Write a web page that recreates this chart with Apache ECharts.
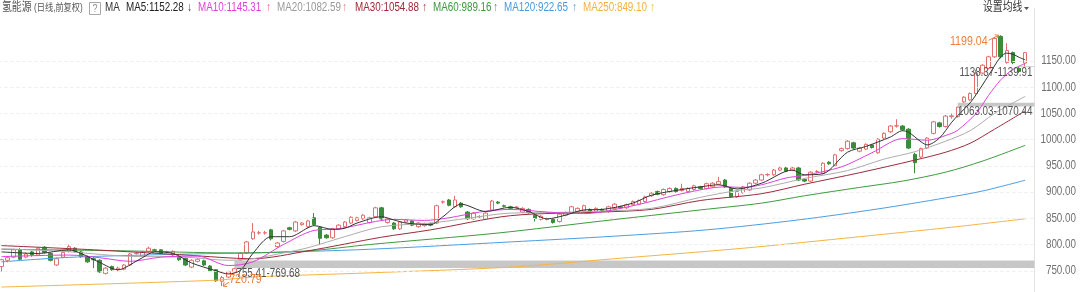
<!DOCTYPE html>
<html>
<head>
<meta charset="utf-8">
<script src="https://cdn.jsdelivr.net/npm/echarts@6/dist/echarts.min.js"></script>
<style>
html,body{margin:0;padding:0;background:#ffffff;}
#chart{width:1080px;height:292px;}
</style>
</head>
<body>
<div id="chart"></div>
<script>
// ================= DATA =================
// daily candles, each [open, close, low, high]
const ohlc = [
[758,771,748,773],[770,775,766,778],[776,790,774,792],[790,772,770,793],[776,782,774,785],
[786,780,777,788],[780,793,778,795],[795,785,783,797],[783,770,768,785],[761,773,759,775],
[776,785,774,787],[787,796,785,800],[793,787,785,795],[786,777,775,788],[777,767,765,779],
[773,771,755,777],[770,748,746,772],[745,755,743,757],[758,752,750,760],[752,755,749,758],
[753,761,751,763],[761,782,759,784],[783,783.5,781,786],[778,786,776,788],[787,793,785,796],
[790,789,787,792],[790,783,781,791],[786,786.5,784,788],[780,787,778,789],[777,771,769,779],
[774,761,759,775],[757,770,755,772],[768,772,766,774],[769,761,759,771],[759,750,748,761],
[752,731,729,753],[730,737,720.79,740],[738,748,736,750],[748,754,746,755.41],[771,783,769.68,785],
[784,805,782,807],[811,824,809,841],[822,822.5,819,826],[822,822.5,819,826],[828,811,808,830],
[796,803,794,805],[806,826,804,828],[832,829,827,834],[826,843,824,845],[838,841,836,843],
[834,845,832,847],[851,838,836,860],[833,812,799,835],[818,813,811,820],[813,830,811,832],
[830,837,828,839],[834,843,832,845],[841,852,839,854],[846,851,844,853],[849,856,847,858],
[842,851,840,853],[853,870,851,872],[870,849,847,872],[842,849,840,851],[841,830,828,843],
[830,843,828,845],[843,847,841,849],[845,837,835,847],[834,841,832,843],[836,840,834,842],
[840,837,835,842],[841,874,839,876],[881,881.5,878,884],[885,875,873,887],[872,885,870,893],
[879,872,870,881],[862,849,847,864],[849,860,847,862],[853,853.5,850,856],[849,860,847,862],
[866,883,864,885],[881,879,877,883],[874,873,871,876],[872,869,867,874],[871,871.5,869,873],
[862,869,860,871],[867,861,859,869],[856,850,844,858],[848,854,846,856],[848,848.5,846,851],
[848,842,840,850],[844,858,842,860],[856,861,854,863],[861,872,859,874],[863,869,861,871],
[864,874,862,876],[867,861,859,869],[863,869,861,871],[867,865,863,869],[863,872,861,874],
[869,877,867,879],[872,870,868,874],[870,876,868,878],[876,882,874,884],[877,884,875,886],
[882,891,880,893],[893,898,891,900],[901,896,894,903],[895,905,893,907],[901,907,899,909],
[907,901,899,909],[903,907,901,916],[901,907,899,909],[905,912,903,914],[910,907,905,912],
[907,916,905,918],[910,917,908,919],[915,920,913,929],[923,910,908,925],[907,891,889,909],
[891,901,889,903],[899,910,897,912],[904,917,902,919],[917,923,915,925],[923,933,921,935],
[933,933.5,930,936],[933,942,931,944],[942,946,940,948],[946,940,938,948],[942,946,940,948],
[946,923,921,948],[924,921,919,926],[921,938,919,940],[939,939.5,936,942],[936,955,934,957],
[957,954,952,959],[950,971,948,973],[979,983,977,985],[983,997,981,999],[994,984,982,996],
[978,984,976,986],[982,991,980,993],[990,985,983,992],[975,1001,973,1003],[1003,1012,1001,1014],
[1015,1026,1013,1028],[1026,1026.5,1023,1039],[1026,1019,1017,1028],[1020,984,982,1022],[972,956,936,975],
[967,983,965,985],[984,1003,982,1005],[1012,1034,1010,1036],[1032,1025,1023,1034],[1025,1045,1023,1047],
[1044,1045.5,1040,1050],[1044,1062,1042,1063.03],[1072,1081,1070.44,1083],[1076,1088,1074,1090],[1088,1127,1086,1133],
[1127,1142,1125,1144],[1136,1158,1134,1160],[1158,1193,1156,1196],[1197,1158,1155,1199.04],[1147,1170,1145,1184],
[1166,1147,1144,1168],[1136,1130,1127,1138.37],[1146,1166,1139.91,1167]
];

// moving averages: [candle index, value]
const ma5Pts = [[0,786],[6,783],[11,790],[13,783],[16,766],[19,752],[20,755],[23,775],[25,786],[28,783],[31,765],[35,750],[37,744],[39,751],[41,783],[44,815],[47,815],[50,832],[51,836],[54,829],[56,831],[58,841],[62,853],[64,847],[66,841],[70,838],[72,853],[75,877],[79,863],[83,871],[86,863],[89,849],[92,856],[95,866],[98,867],[103,879],[106,894],[111,905],[114,910],[117,914],[120,906],[124,917],[129,942],[131,933],[134,935],[138,976],[141,987],[145,1005],[147,1017],[148,1014],[150,996],[151,990],[153,1003],[155,1033],[156,1046],[158,1070],[159,1086],[161,1122],[163,1158],[164,1165],[165,1163],[166,1157],[167,1152.28]];
const ma10Pts = [[0,777],[6,779],[11,780],[16,775],[21,768],[26,776],[32,778],[37,760],[41,767],[46,800],[51,827],[55,830],[61,844],[64,848],[69,846],[73,851],[78,862],[83,867],[89,862],[95,859],[103,874],[111,897],[118,910],[121,909],[124,914],[128,927],[131,932],[137,948],[142,975],[147,1002],[151,999],[155,1012],[156,1018],[159,1050],[161,1084],[163,1114],[165,1134],[167,1145.31]];
const ma20Pts = [[0,792],[10,787],[20,778],[30,776],[37,770],[41,773],[46,784],[50,794],[56,815],[62,834],[70,841],[76,850],[83,860],[90,861],[98,864],[106,869],[114,890],[120,903],[124,908],[131,926],[138,941],[144,963],[149,977],[154,997],[158,1017],[162,1050],[167,1082.59]];
const ma30Pts = [[0,798],[15,790],[30,780],[41,773],[50,788],[62,814],[70,828],[83,855],[98,862],[106,867],[114,884],[124,897],[131,915],[140,937],[149,961],[154,976],[158,993],[162,1020],[167,1054.88]];
const ma60Pts = [[0,791],[20,788],[38,784],[50,788],[60,800],[81,822],[98,845],[114,866],[124,879],[131,893],[140,909],[147,921],[154,938],[160,959],[167,989.16]];
const ma120Pts = [[0,767],[10,775],[20,779],[35,783],[41,784],[60,791],[83,805],[100,816],[115,828],[130,847],[143,868],[154,889],[160,902],[167,922.65]];
const ma250Pts = [[0,719],[35,732],[41,738],[60,746],[83,757],[100,773],[121,793],[140,815],[155,833],[167,849.10]];

const maNames = ['MA5', 'MA10', 'MA20', 'MA30', 'MA60', 'MA120', 'MA250'];
const maTrend = ['↓', '↑', '↑', '↑', '↑', '↑', '↑'];

// price gaps (缺口): lower edge, upper edge, candle where the band starts
const gapLow = [755.41, 1063.03, 1138.37];
const gapHigh = [769.68, 1070.44, 1139.91];
const gapStart = [38, 156, 166];

// y tick labels
const tickValues = [750, 800, 850, 900, 950, 1000, 1050, 1100, 1150];

const stockName = '氢能源';
const stockMode = '(日线,前复权)';
const settingText = '设置均线';

// ================= STYLE / LAYOUT =================
const maPts = [ma5Pts, ma10Pts, ma20Pts, ma30Pts, ma60Pts, ma120Pts, ma250Pts];
const maColors = ['#333333', '#e040dc', '#adadad', '#9e2a3c', '#3f9b3f', '#4c9ee2', '#f6b443'];
const maTextColors = ['#222222', '#df3fd8', '#9a9a9a', '#a02a36', '#3a9a3a', '#4a98dc', '#f4b040'];
const maArrowColors = ['#333333', '#e2568c', '#e07b7b', '#a02a36', '#3a9a3a', '#4a98dc', '#f4b040'];
const legendX = [126, 198, 277, 355, 433, 504, 583];
const arrowX = [187, 266, 342, 422, 493, 572, 650];
const UP_BORDER = '#e46f6f';
const DOWN = '#3a8b3a';
const NOTE_COLOR = '#ef7d3c';
const SX = 0.82;
const FONT_FAMILY = "'Liberation Sans','Noto Sans CJK SC',sans-serif";
const GRID_LEFT = -1.6, GRID_RIGHT = 45.6;
const gridRightPx = 1080 - GRID_RIGHT;

const categories = ohlc.map((d, i) => String(i + 1));

const chart = echarts.init(document.getElementById('chart'), null, {renderer: 'canvas'});

const option = {
  animation: false,
  backgroundColor: '#ffffff',
  grid: {left: GRID_LEFT, right: GRID_RIGHT, top: 8.55, bottom: -5, containLabel: false, outerBoundsMode: 'none'},
  xAxis: {type: 'category', data: categories, boundaryGap: true, max: categories.length, show: false},
  yAxis: {
    type: 'value', position: 'right', min: 700, max: 1250, interval: 50,
    axisLine: {show: true, lineStyle: {color: '#e3e3e3', width: 1}},
    axisTick: {show: false}, axisLabel: {show: false}, splitLine: {show: false}
  },
  series: [
    {
      type: 'candlestick',
      data: ohlc,
      barWidth: 4,
      z: 2,
      silent: true,
      itemStyle: {color: '#ffffff', color0: DOWN, borderColor: UP_BORDER, borderColor0: DOWN, borderWidth: 1},
      markArea: {
        silent: true,
        itemStyle: {color: '#c7c7c7'},
        label: {show: false},
        data: gapStart.map((s, k) => [{xAxis: s, yAxis: gapLow[k]}, {yAxis: gapHigh[k]}])
      },
      markLine: {
        silent: true,
        symbol: ['none', 'none'],
        label: {show: false},
        lineStyle: {color: '#ededed', type: [3, 3], width: 1},
        data: tickValues.map(v => ({yAxis: v}))
      }
    }
  ].concat(maPts.map((pts, k) => ({
    type: 'line',
    name: maNames[k],
    data: pts,
    showSymbol: false,
    symbol: 'none',
    smooth: 0.3,
    silent: true,
    z: 3 + (7 - k),
    lineStyle: {width: 1, color: maColors[k]},
    itemStyle: {color: maColors[k]}
  })))
};
chart.setOption(option);

// ---------- texts (horizontally condensed like the reference) ----------
const mctx = document.createElement('canvas').getContext('2d');
function textW(s, size) {
  mctx.font = (size || 12) + 'px ' + FONT_FAMILY;
  return mctx.measureText(s).width * SX;
}
function T(x, y, text, fill, opts) {
  opts = opts || {};
  return {
    type: 'text', x: x, y: y, scaleX: SX, silent: true, z: 100,
    style: {text: text, fill: fill, fontSize: opts.size || 12, fontFamily: FONT_FAMILY,
            align: opts.align || 'left', verticalAlign: opts.va || 'middle'}
  };
}

const g = [];
// header
g.push(T(2, 8, stockName, '#555555'));
g.push(T(34, 8, stockMode, '#555555', {size: 10}));
g.push({type: 'rect', silent: true, z: 100, shape: {x: 89.5, y: 2.5, width: 11, height: 12},
        style: {fill: '#ffffff', stroke: '#a8a8a8', lineWidth: 1}});
g.push(T(95, 8.5, '?', '#8a8a8a', {align: 'center', size: 11}));
g.push(T(105, 8, 'MA', '#333333'));
maNames.forEach((n, k) => {
  const pts = maPts[k];
  const last = pts[pts.length - 1][1];
  g.push(T(legendX[k], 8, n + ':' + last.toFixed(2), maTextColors[k]));
  g.push(T(arrowX[k], 8, maTrend[k], maArrowColors[k]));
});
g.push(T(983, 8, settingText, '#333333'));
g.push({type: 'polygon', silent: true, z: 100, shape: {points: [[1024, 7], [1029, 7], [1026.5, 10]]}, style: {fill: '#555555'}});

// y tick labels
tickValues.forEach(v => {
  const y = chart.convertToPixel({yAxisIndex: 0}, v);
  g.push(T(1076, y, v.toFixed(2), '#707070', {align: 'right'}));
});

// gap labels
gapStart.forEach((s, k) => {
  const p = chart.convertToPixel({seriesIndex: 0}, [s, gapLow[k]]);
  const label = gapLow[k].toFixed(2) + '-' + gapHigh[k].toFixed(2);
  const w = textW(label);
  if (p[0] + 2 + w > gridRightPx - 2) {
    g.push(T(gridRightPx - 2, p[1] - 0.5, label, '#555555', {align: 'right', va: 'top'}));
  } else {
    g.push(T(p[0] + 2, p[1] - 0.5, label, '#555555', {va: 'top'}));
  }
});

// highest / lowest notes
let hiIdx = 0, loIdx = 0;
ohlc.forEach((d, i) => {
  if (d[3] > ohlc[hiIdx][3]) hiIdx = i;
  if (d[2] < ohlc[loIdx][2]) loIdx = i;
});
const hiVal = ohlc[hiIdx][3], loVal = ohlc[loIdx][2];
const ph = chart.convertToPixel({seriesIndex: 0}, [hiIdx, hiVal]);
g.push(T(ph[0] - 13, ph[1] + 6, hiVal.toFixed(2), NOTE_COLOR, {align: 'right', size: 13}));
g.push({type: 'polyline', silent: true, z: 100, shape: {points: [[ph[0] - 12, ph[1] + 5], [ph[0] - 2, ph[1]]]},
        style: {stroke: NOTE_COLOR, lineWidth: 1, fill: null}});
g.push({type: 'polyline', silent: true, z: 100, shape: {points: [[ph[0] - 6, ph[1] - 0.5], [ph[0] - 2, ph[1]], [ph[0] - 4, ph[1] + 3]]},
        style: {stroke: NOTE_COLOR, lineWidth: 1, fill: null}});
const pl = chart.convertToPixel({seriesIndex: 0}, [loIdx, loVal]);
g.push(T(pl[0] + 7, pl[1] - 7, loVal.toFixed(2), NOTE_COLOR, {size: 13}));
g.push({type: 'polyline', silent: true, z: 100, shape: {points: [[pl[0] + 7, pl[1] - 4], [pl[0] + 1, pl[1]]]},
        style: {stroke: NOTE_COLOR, lineWidth: 1, fill: null}});
g.push({type: 'polyline', silent: true, z: 100, shape: {points: [[pl[0] + 2, pl[1] - 4], [pl[0] + 1, pl[1]], [pl[0] + 5, pl[1] + 0.5]]},
        style: {stroke: NOTE_COLOR, lineWidth: 1, fill: null}});

chart.setOption({graphic: g});
</script>
</body>
</html>
